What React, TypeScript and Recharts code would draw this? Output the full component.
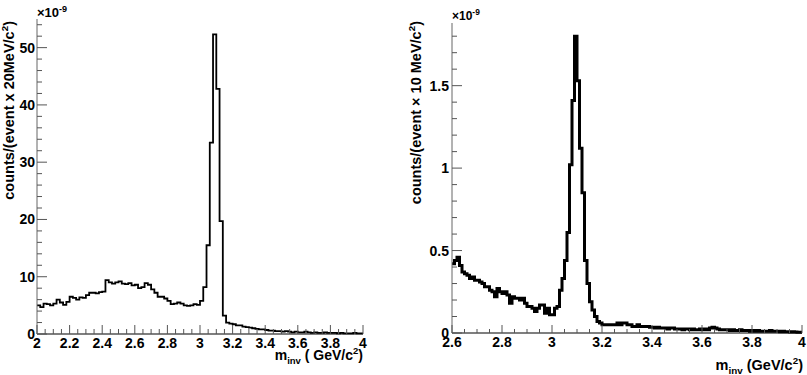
import React from 'react';
import { LineChart, Line, XAxis, YAxis } from 'recharts';

const FONT = '"Liberation Sans", Arial, Helvetica, sans-serif';

// Left histogram: 20 MeV bins from 2.00 to 4.00 GeV (values x 1e-9)
const leftStart = 2.0;
const leftBinWidth = 0.02;
const leftCounts = [
  5.0, 4.7, 5.3, 5.2, 5.0, 5.3, 6.0, 5.5, 5.1, 5.6,
  6.5, 6.3, 6.0, 6.4, 6.3, 6.8, 7.2, 7.2, 7.1, 7.3,
  7.4, 9.4, 9.0, 8.8, 9.0, 9.2, 8.8, 8.7, 8.9, 8.5,
  8.6, 8.0, 8.2, 8.9, 8.6, 7.8, 7.2, 6.5, 6.5, 6.2,
  5.8, 5.2, 5.3, 5.5, 5.3, 5.0, 4.9, 5.0, 5.2, 5.1,
  5.8, 8.2, 15.5, 33.4, 52.3, 42.8, 19.7, 3.2, 2.0, 1.8,
  1.7, 1.5, 1.5, 1.3, 1.2, 1.1, 1.0, 0.9, 0.8, 0.8,
  0.7, 0.6, 0.6, 0.5, 0.5, 0.4, 0.5, 0.4, 0.3, 0.4,
  0.3, 0.3, 0.4, 0.3, 0.2, 0.3, 0.2, 0.2, 0.3, 0.2,
  0.2, 0.2, 0.1, 0.2, 0.1, 0.1, 0.1, 0.2, 0.1, 0.1,
];
const leftXLabels = [2, 2.2, 2.4, 2.6, 2.8, 3, 3.2, 3.4, 3.6, 3.8, 4];
const leftYLabels = [0, 10, 20, 30, 40, 50];

// Right histogram: 10 MeV bins from 2.60 to 4.00 GeV (values x 1e-9)
const rightStart = 2.6;
const rightBinWidth = 0.01;
const rightCounts = [
  0.42, 0.44, 0.46, 0.41, 0.37, 0.36, 0.35, 0.33, 0.34, 0.32,
  0.32, 0.31, 0.30, 0.28, 0.28, 0.26, 0.25, 0.22, 0.27, 0.25,
  0.24, 0.25, 0.23, 0.18, 0.22, 0.21, 0.21, 0.20, 0.21, 0.18,
  0.16, 0.16, 0.15, 0.13, 0.15, 0.17, 0.17, 0.12, 0.15, 0.11,
  0.11, 0.15, 0.16, 0.26, 0.33, 0.44, 0.61, 1.02, 1.41, 1.80,
  1.53, 1.12, 0.85, 0.44, 0.30, 0.19, 0.14, 0.10, 0.07, 0.06,
  0.05, 0.05, 0.05, 0.05, 0.05, 0.05, 0.06, 0.05, 0.06, 0.06,
  0.05, 0.05, 0.04, 0.04, 0.05, 0.04, 0.04, 0.04, 0.04, 0.035,
  0.035, 0.03, 0.035, 0.03, 0.03, 0.03, 0.025, 0.03, 0.03, 0.025,
  0.025, 0.025, 0.02, 0.025, 0.025, 0.02, 0.025, 0.02, 0.02, 0.025,
  0.02, 0.025, 0.02, 0.03, 0.035, 0.03, 0.025, 0.02, 0.02, 0.02,
  0.02, 0.015, 0.02, 0.015, 0.015, 0.02, 0.015, 0.015, 0.015, 0.01,
  0.015, 0.01, 0.015, 0.01, 0.01, 0.01, 0.01, 0.015, 0.01, 0.01,
  0.01, 0.008, 0.01, 0.008, 0.008, 0.006, 0.008, 0.006, 0.005, 0.005,
];
const rightXLabels = [2.6, 2.8, 3, 3.2, 3.4, 3.6, 3.8, 4];
const rightYLabels = [0, 0.5, 1, 1.5];

function toSteps(counts: number[], start: number, width: number) {
  const pts = counts.map((v, i) => ({ m: +(start + i * width).toFixed(4), v }));
  pts.push({ m: +(start + counts.length * width).toFixed(4), v: counts[counts.length - 1] });
  return pts;
}

function withMinor(major: number[], parts: number, max: number) {
  const out: number[] = [];
  for (let i = 0; i < major.length; i++) {
    out.push(major[i]);
    const step = (i < major.length - 1 ? major[i + 1] - major[i] : major[1] - major[0]) / parts;
    for (let k = 1; k < parts; k++) {
      const t = +(major[i] + k * step).toFixed(4);
      if (t <= max + 1e-9) out.push(t);
    }
  }
  return out;
}

const leftData = toSteps(leftCounts, leftStart, leftBinWidth);
const rightData = toSteps(rightCounts, rightStart, rightBinWidth);

const isMajor = (list: number[], v: number) => list.some((m) => Math.abs(m - v) < 1e-6);
const fmt = (v: number) => String(+v.toFixed(2));

function makeXTick(majors: number[], majorLen: number, minorLen: number, dy: number, fs: number) {
  return (props: any) => {
    const { x, y, payload } = props;
    const mj = isMajor(majors, payload.value);
    return (
      <g>
        <line x1={x} x2={x} y1={y} y2={y - (mj ? majorLen : minorLen)} stroke="#555" strokeWidth={1} />
        {mj && (
          <text x={x} y={y + dy} textAnchor="middle" fontFamily={FONT} fontWeight="bold" fontSize={fs} fill="#000">
            {fmt(payload.value)}
          </text>
        )}
      </g>
    );
  };
}

function makeYTick(majors: number[], majorLen: number, minorLen: number, dx: number, fs: number) {
  return (props: any) => {
    const { x, y, payload } = props;
    const mj = isMajor(majors, payload.value);
    return (
      <g>
        <line x1={x} x2={x + (mj ? majorLen : minorLen)} y1={y} y2={y} stroke="#555" strokeWidth={1} />
        {mj && (
          <text x={x - dx} y={y} dy="0.36em" textAnchor="end" fontFamily={FONT} fontWeight="bold" fontSize={fs} fill="#000">
            {fmt(payload.value)}
          </text>
        )}
      </g>
    );
  };
}

function yTitle(main: string, baseX: number, endDy: number, expDy: number, fs: number, expFs: number) {
  return (p: any) => {
    const vb = p.viewBox || { x: 0, y: 0, width: 0, height: 0 };
    const tx = vb.x + baseX;
    const ty = vb.y + endDy;
    return (
      <g>
        <text
          transform={`translate(${tx},${ty}) rotate(-90)`}
          textAnchor="end"
          fontFamily={FONT}
          fontWeight="bold"
          fontSize={fs}
          fill="#000"
        >
          {main}
          <tspan dy={-6} fontSize={fs * 0.68}>2</tspan>
          <tspan dy={6} fontSize={fs}>)</tspan>
        </text>
        <text x={vb.x + vb.width} y={vb.y + expDy} fontFamily={FONT} fontWeight="bold" fontSize={expFs} fill="#000">
          ×10
          <tspan dy={-5} fontSize={expFs * 0.7}>-9</tspan>
        </text>
      </g>
    );
  };
}

function xTitle(after: string, dy: number, dx: number, fs: number) {
  return (p: any) => {
    const vb = p.viewBox || { x: 0, y: 0, width: 0, height: 0 };
    return (
      <text x={vb.x + vb.width + dx} y={vb.y + dy} textAnchor="end" fontFamily={FONT} fontWeight="bold" fontSize={fs} fill="#000">
        m
        <tspan dy={4} fontSize={fs * 0.68}>inv</tspan>
        <tspan dy={-4} fontSize={fs}>{after}</tspan>
        <tspan dy={-6} fontSize={fs * 0.68}>2</tspan>
        <tspan dy={6} fontSize={fs}>)</tspan>
      </text>
    );
  };
}

export default function App() {
  const leftXTicks = withMinor(leftXLabels, 4, 4);
  const leftYTicks = withMinor(leftYLabels, 5, 55);
  const rightXTicks = withMinor(rightXLabels, 4, 4);
  const rightYTicks = withMinor(rightYLabels, 5, 1.88);

  return (
    <div style={{ position: 'absolute', left: 0, top: 0, width: 807, height: 375, background: '#fff' }}>
      <div style={{ position: 'absolute', left: 0, top: 0 }}>
        <LineChart width={400} height={375} data={leftData} margin={{ top: 19, right: 37, bottom: 0, left: 0 }}>
          <XAxis
            dataKey="m"
            type="number"
            domain={[2, 4]}
            ticks={leftXTicks}
            interval={0}
            height={41}
            tickSize={0}
            tickMargin={0}
            tickLine={false}
            axisLine={{ stroke: '#000', strokeWidth: 1.2 }}
            tick={makeXTick(leftXLabels, 9, 5, 14, 14)}
            label={{ content: xTitle(' ( GeV/c', 26, 0, 14) }}
          />
          <XAxis xAxisId="top" orientation="top" type="number" domain={[2, 4]} height={0} tick={false} tickLine={false} axisLine={{ stroke: '#999' }} />
          <YAxis
            type="number"
            domain={[0, 55]}
            ticks={leftYTicks}
            interval={0}
            width={37}
            tickSize={0}
            tickMargin={0}
            tickLine={false}
            axisLine={{ stroke: '#666' }}
            tick={makeYTick(leftYLabels, 10, 5, 2, 14)}
            label={{ content: yTitle('counts/(event x 20MeV/c', 14, 2, -2, 14.5, 13) }}
          />
          <YAxis yAxisId="right" orientation="right" type="number" domain={[0, 1]} width={0} tick={false} tickLine={false} axisLine={{ stroke: '#c05050' }} />
          <Line type="stepAfter" dataKey="v" stroke="#000" strokeWidth={1.8} dot={false} isAnimationActive={false} />
        </LineChart>
      </div>
      <div style={{ position: 'absolute', left: 400, top: 0 }}>
        <LineChart width={407} height={375} data={rightData} margin={{ top: 23, right: 5, bottom: 0, left: 0 }}>
          <XAxis
            dataKey="m"
            type="number"
            domain={[2.6, 4]}
            ticks={rightXTicks}
            interval={0}
            height={42}
            tickSize={0}
            tickMargin={0}
            tickLine={false}
            axisLine={{ stroke: '#000', strokeWidth: 1.2 }}
            tick={makeXTick(rightXLabels, 8, 4, 14, 14)}
            label={{ content: xTitle(' (GeV/c', 37, 1, 14.5) }}
          />
          <XAxis xAxisId="top" orientation="top" type="number" domain={[2.6, 4]} height={0} tick={false} tickLine={false} axisLine={{ stroke: '#999' }} />
          <YAxis
            type="number"
            domain={[0, 1.88]}
            ticks={rightYTicks}
            interval={0}
            width={52}
            tickSize={0}
            tickMargin={0}
            tickLine={false}
            axisLine={{ stroke: '#666' }}
            tick={makeYTick(rightYLabels, 10, 5, 3, 14)}
            label={{ content: yTitle('counts/(event × 10 MeV/c', 21, -2, -3, 14.5, 12) }}
          />
          <YAxis yAxisId="right" orientation="right" type="number" domain={[0, 1]} width={0} tick={false} tickLine={false} axisLine={{ stroke: '#999' }} />
          <Line type="stepAfter" dataKey="v" stroke="#000" strokeWidth={3} dot={false} isAnimationActive={false} />
        </LineChart>
      </div>
    </div>
  );
}
